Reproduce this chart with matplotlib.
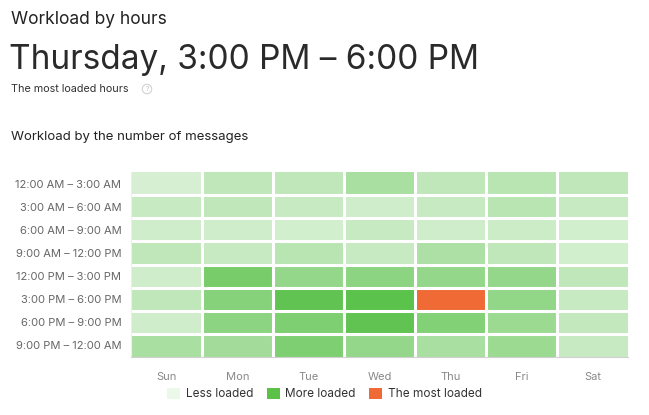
import numpy as np
import matplotlib.pyplot as plt
from matplotlib.colors import LinearSegmentedColormap
from matplotlib.patches import Patch

days = ['Sun', 'Mon', 'Tue', 'Wed', 'Thu', 'Fri', 'Sat']
hours = ['12:00 AM – 3:00 AM', '3:00 AM – 6:00 AM', '6:00 AM – 9:00 AM',
         '9:00 AM – 12:00 PM', '12:00 PM – 3:00 PM', '3:00 PM – 6:00 PM',
         '6:00 PM – 9:00 PM', '9:00 PM – 12:00 AM']
# relative load per cell (rows = hours, cols = days)
load = [
    [0.15, 0.30, 0.30, 0.45, 0.30, 0.35, 0.30],
    [0.25, 0.30, 0.25, 0.20, 0.25, 0.35, 0.25],
    [0.20, 0.20, 0.18, 0.25, 0.20, 0.22, 0.18],
    [0.30, 0.25, 0.35, 0.25, 0.43, 0.30, 0.18],
    [0.20, 0.80, 0.60, 0.65, 0.60, 0.60, 0.30],
    [0.30, 0.70, 0.95, 1.00, 1.10, 0.62, 0.25],
    [0.20, 0.65, 0.75, 0.95, 0.72, 0.55, 0.28],
    [0.45, 0.50, 0.75, 0.60, 0.45, 0.55, 0.25],
]
peak_row, peak_col = 5, 4

plt.rcParams['font.family'] = ['Inter', 'DejaVu Sans']

fig = plt.figure(figsize=(6.49, 4.15), dpi=100)
ax = fig.add_axes([131 / 649, 1 - 357 / 415, 497 / 649, 185 / 415])

cmap = LinearSegmentedColormap.from_list('load', ['#ecf8ea', '#5bc24b'])
data = np.array(load, dtype=float)
colors = cmap(np.clip(data, 0, 1))
colors[peak_row, peak_col] = (0xef / 255, 0x6a / 255, 0x35 / 255, 1)

ax.imshow(colors, aspect='auto', extent=(-0.5, 6.5, 7.5, -0.5))
for i in range(1, 7):
    ax.axvline(i - 0.5, color='white', lw=2.2)
for j in range(1, 8):
    ax.axhline(j - 0.5, color='white', lw=2.2)

ax.set_xticks(range(7))
ax.set_xticklabels(days, fontsize=8, color='#888888')
ax.set_yticks(range(8))
ax.set_yticklabels(hours, fontsize=8, color='#666666')
ax.tick_params(length=0, pad=7)
ax.tick_params(axis='x', pad=11)
for side in ['top', 'right']:
    ax.spines[side].set_visible(False)
ax.spines['bottom'].set_color('#d0d0d0')
ax.spines['left'].set_color('#eeeeee')

fig.text(11 / 649, 1 - 20 / 415, 'Workload by hours', fontsize=12.5,
         color='#222222', va='center')
fig.text(9 / 649, 1 - 60 / 415, 'Thursday, 3:00 PM – 6:00 PM', fontsize=24,
         color='#2a2a2a', va='center')
fig.text(11 / 649, 1 - 89 / 415, 'The most loaded hours', fontsize=7.8,
         color='#333333', va='center')
fig.text(147 / 649, 1 - 89 / 415, '?', fontsize=5, color='#bbbbbb', va='center',
         ha='center', bbox=dict(boxstyle='circle,pad=0.25', fc='white', ec='#cccccc', lw=0.7))
fig.text(11 / 649, 1 - 137 / 415, 'Workload by the number of messages', fontsize=9.5,
         color='#222222', va='center')

handles = [Patch(facecolor='#ecf8ea', edgecolor='none', label='Less loaded'),
           Patch(facecolor='#5bc247', edgecolor='none', label='More loaded'),
           Patch(facecolor='#ef6a35', edgecolor='none', label='The most loaded')]
fig.legend(handles=handles, loc='center', bbox_to_anchor=(0.5, 1 - 394 / 415),
           ncol=3, frameon=False, fontsize=8.5, handlelength=1.1, handleheight=1.1,
           handletextpad=0.5, columnspacing=1.1, labelcolor='#333333')

fig.savefig('out.png', dpi=100)
